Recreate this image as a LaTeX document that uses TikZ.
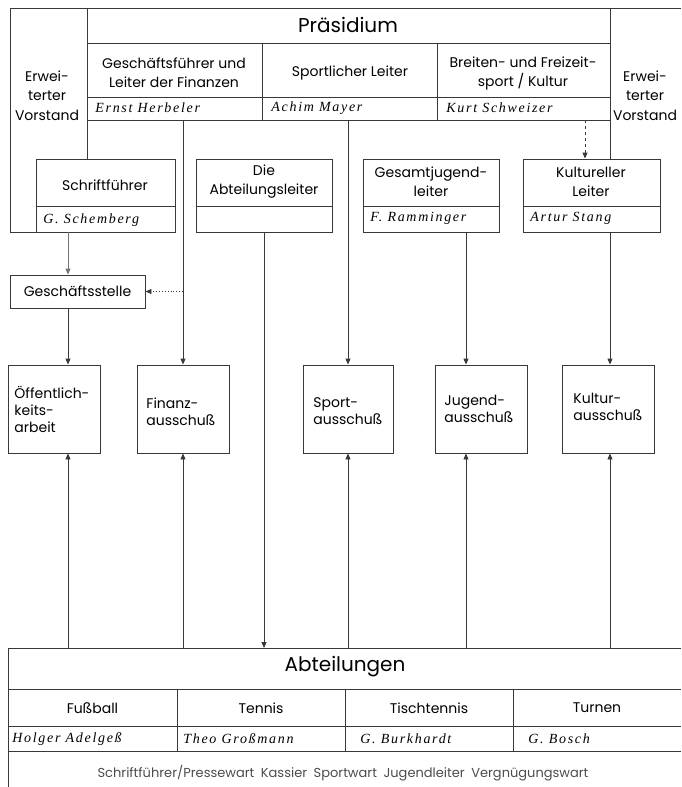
\documentclass[tikz,border=0pt]{standalone}
\usepackage{fontspec}
\setmainfont{Poppins}
\newfontfamily\handfont{Liberation Serif}[LetterSpace=12]
\usetikzlibrary{arrows.meta}

\definecolor{linie}{gray}{0.22}
\tikzset{every picture/.style={line width=0.9pt}}
\tikzset{
	feld/.style n args={2}{draw=linie, minimum width=#1, minimum height=#2, inner sep=0pt},
	txt/.style={font=\fontsize{14}{19}\selectfont, align=center, inner sep=0pt},
	lnk/.style={font=\fontsize{14}{17}\selectfont, align=left, anchor=west, inner sep=0pt},
	gross/.style={font=\fontsize{20}{24}\selectfont, inner sep=0pt},
	hand/.style={font=\handfont\itshape\fontsize{14}{16}\selectfont, anchor=west, inner sep=0pt},
	pfeil/.style={draw=linie, -{Triangle[width=5pt,length=6pt]}}}

\begin{document}
\begin{tikzpicture}[x=1pt,y=1pt,yscale=-1]
	\useasboundingbox (0,0) rectangle (681,787);

	%Boxes: zweite Reihe
	\node[feld={139pt}{73pt}] (schrift) at (105.5,195.5) {};
	\node[feld={136pt}{73pt}] (abtl) at (264,195.5) {};
	\node[feld={136pt}{73pt}] (gjl) at (431,195.5) {};
	\node[feld={137pt}{73pt}] (kult) at (591.5,195.5) {};
	\foreach \b in {schrift,abtl,gjl,kult}
		\draw [linie] (\b.west |- 0,206) -- (\b.east |- 0,206);
	%Box: Geschaeftsstelle
	\node[feld={135pt}{33pt}, txt] (gst) at (77.5,291.5) {Geschäftsstelle};
	%Boxes: Ausschuesse
	\node[feld={92pt}{88pt}] (oeff) at (54,409) {};
	\node[feld={92pt}{88pt}] (finz) at (183,409) {};
	\node[feld={90pt}{88pt}] (sport) at (348,409) {};
	\node[feld={92pt}{88pt}] (jug) at (481,409) {};
	\node[feld={92pt}{88pt}] (kultA) at (608,409) {};

	%Erweiterter Vorstand
	\draw [linie] (schrift.south west) -- (schrift.south west -| 10,0) -- (10,8) -- (681,8);
	\draw [linie] (87,8) -- (schrift.north -| 87,0);
	\draw [linie] (610,8) -- (kult.north -| 610,0);
	%Praesidium
	\coordinate (praesUL) at (87,120);
	\coordinate (kurt) at (585,120);
	\draw [linie] (87,43) -- (610,43);
	\draw [linie] (87,97) -- (610,97);
	\draw [linie] (praesUL) -- (610,120);
	\foreach \x in {262,437}
		\draw [linie] (\x,43) -- (\x,120);

	%Abteilungen
	\coordinate (abtoben) at (8,648);
	\draw [linie] (8,787) -- (abtoben) -- (681,648);
	\foreach \y in {689,726,751}
		\draw [linie] (8,\y) -- (681,\y);
	\foreach \x in {177,345,513}
		\draw [linie] (\x,689) -- (\x,751);

	%Straight Lines: Verbindungen
	\draw [pfeil, draw=black!55] (schrift.south -| 68,0) -- (gst.north -| 68,0);
	\draw [pfeil] (gst.south -| 68,0) -- (oeff.north -| 68,0);
	\draw [pfeil] (finz.north |- praesUL) -- (finz.north);
	\draw [pfeil, dotted] (finz.north |- gst.east) -- (gst.east);
	\draw [pfeil] (sport.north |- praesUL) -- (sport.north);
	\draw [pfeil, dashed] (kurt) -- (kurt |- kult.north);
	\draw [pfeil] (abtl.south) -- (abtl.south |- abtoben);
	\draw [pfeil] (gjl.south -| 466,0) -- (jug.north -| 466,0);
	\draw [pfeil] (kult.south -| 610,0) -- (kultA.north -| 610,0);
	\foreach \k/\x in {oeff/68,finz/183,sport/348,jug/466,kultA/610}
		\draw [pfeil] (abtoben -| \x,0) -- (\k.south -| \x,0);

	% Text Node
	\node[gross] (praesT) at (348,25) {Präsidium};
	\node[txt] (evlT) at (47,96) {Erwei-\\terter\\[1pt]Vorstand};
	\node[txt] (evrT) at (645,96) {Erwei-\\terter\\[1pt]Vorstand};
	\node[txt] (gfT) at (174,73) {Geschäftsführer und\\Leiter der Finanzen};
	\node[txt] (slT) at (350,73) {Sportlicher Leiter};
	\node[txt] (bfT) at (523,73) {Breiten- und Freizeit-\\sport / Kultur};
	\node[hand] (herbT) at (95,108) {Ernst Herbeler};
	\node[hand] (mayT) at (271,108) {Achim Mayer};
	\node[hand] (schwT) at (446,108) {Kurt Schweizer};
	% Text Node
	\node[txt] (schriftT) at (105,185) {Schriftführer};
	\node[txt] (abtlT) at (264,182) {Die\\Abteilungsleiter};
	\node[txt] (gjlT) at (431,182) {Gesamtjugend-\\leiter};
	\node[txt] (kultT) at (591,182) {Kultureller\\Leiter};
	\node[hand] (schembT) at (43,220) {G. Schemberg};
	\node[hand] (rammT) at (370,218) {F. Ramminger};
	\node[hand] (stangT) at (530,218) {Artur Stang};
	% Text Node
	\node[lnk] (oeffT) at (14,409) {Öffentlich-\\keits-\\arbeit};
	\node[lnk] (finzT) at (146,412) {Finanz-\\ausschuß};
	\node[lnk] (sportT) at (313,411) {Sport-\\ausschuß};
	\node[lnk] (jugT) at (444,409) {Jugend-\\ausschuß};
	\node[lnk] (kultAT) at (573,407) {Kultur-\\ausschuß};
	% Text Node
	\node[gross] (abtT) at (345,667) {Abteilungen};
	\node[txt] (fussT) at (92.5,708) {Fußball};
	\node[txt] (tennT) at (261,708) {Tennis};
	\node[txt] (tischT) at (429,708) {Tischtennis};
	\node[txt] (turnT) at (597,708) {Turnen};
	\node[hand] (adelT) at (12,739) {Holger Adelgeß};
	\node[hand] (grossT) at (183,739) {Theo Großmann};
	\node[hand] (burkT) at (360,739) {G. Burkhardt};
	\node[hand] (boschT) at (528,739) {G. Bosch};
	\node[txt, font=\fontsize{13}{16}\selectfont, text=black!70] (funkT) at (343,773)
		{Schriftführer/Pressewart\enspace Kassier\enspace Sportwart\enspace Jugendleiter\enspace Vergnügungswart};

\end{tikzpicture}
\end{document}
